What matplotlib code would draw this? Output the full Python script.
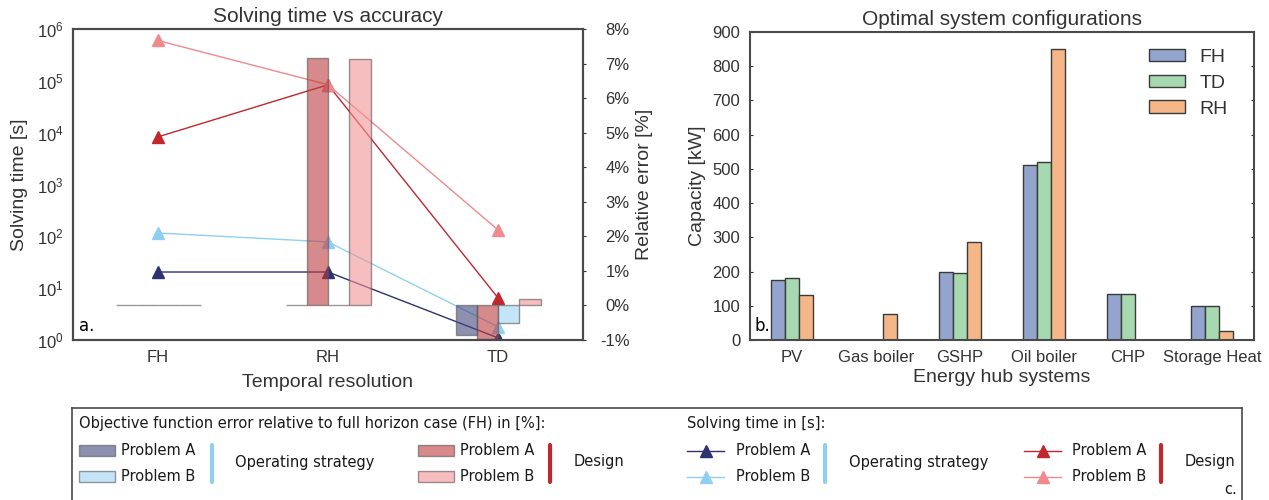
import numpy as np
import matplotlib
matplotlib.use('Agg')
import matplotlib.pyplot as plt
from matplotlib.patches import Rectangle
from matplotlib.lines import Line2D
from matplotlib.ticker import FuncFormatter

# ---- data -------------------------------------------------------------
resolutions = ['FH', 'RH', 'TD']
# solving time [s]
time_op_a = [20.5, 20.5, 1.1]
time_op_b = [116, 78, 1.8]
time_des_a = [8300, 84000, 6.5]
time_des_b = [600000, 84000, 133]
# objective function error relative to FH [%]
err_op_a = [0, 0, -0.86]
err_op_b = [0, 0, -0.51]
err_des_a = [0, 7.15, -0.97]
err_des_b = [0, 7.12, 0.19]

systems = ['PV', 'Gas boiler', 'GSHP', 'Oil boiler', 'CHP', 'Storage Heat']
cap_fh = [174, 0, 198, 512, 135, 99]
cap_td = [182, 0, 195, 519, 133, 99]
cap_rh = [132, 76, 285, 850, 0, 27]

# ---- styles -----------------------------------------------------------
NAVY = '#2e3370'
LBLUE = '#8fd0f2'
RED = '#c0282e'
PINK = '#f08a8c'
BAR_NAVY = '#43467b'
BAR_LBLUE = '#9bd4f3'
BAR_RED = '#bb3c3e'
BAR_PINK = '#f29496'
CAP_COLORS = {'FH': '#93a5cd', 'TD': '#a7d9b0', 'RH': '#f5b787'}
TXT = '#333333'
SPINE = '#4a4a4a'

plt.rcParams['font.family'] = ['Liberation Sans', 'DejaVu Sans']
plt.rcParams['text.color'] = TXT
plt.rcParams['axes.labelcolor'] = TXT
plt.rcParams['xtick.color'] = TXT
plt.rcParams['ytick.color'] = TXT

fig = plt.figure(figsize=(12.69, 5.0), dpi=100)

# ---- a. solving time vs accuracy -------------------------------------
ax = fig.add_axes([73 / 1269, 0.32, 510 / 1269, 0.622])
x = np.arange(len(resolutions))
for vals, c in [(time_op_a, NAVY), (time_op_b, LBLUE),
                (time_des_a, RED), (time_des_b, PINK)]:
    ax.plot(x, vals, color=c, lw=1, marker='^', ms=9, mec=c)
ax.set_yscale('log')
ax.set_ylim(1, 1e6)
ax.set_xlim(-0.5, 2.5)
ax.set_xticks(x)
ax.set_xticklabels(resolutions)
ax.set_ylabel('Solving time [s]', fontsize=14)
ax.set_xlabel('Temporal resolution', fontsize=14, labelpad=7)
ax.yaxis.set_label_coords(-0.088, 0.5)
ax.set_title('Solving time vs accuracy', fontsize=15, pad=5)
ax.tick_params(which='both', length=0, labelsize=12, pad=7)
ax.minorticks_off()

ax2 = ax.twinx()
w = 0.125
bar_kw = dict(width=w, align='edge', alpha=0.6, edgecolor='#555555', linewidth=1)
ax2.bar(x - 2 * w, err_op_a, color=BAR_NAVY, **bar_kw)
ax2.bar(x - w, err_des_a, color=BAR_RED, **bar_kw)
ax2.bar(x, err_op_b, color=BAR_LBLUE, **bar_kw)
ax2.bar(x + w, err_des_b, color=BAR_PINK, **bar_kw)
ax2.set_ylim(-1, 8)
ax2.set_yticks(range(-1, 9))
ax2.yaxis.set_major_formatter(FuncFormatter(lambda v, p: '%d%%' % v))
ax2.tick_params(axis='y', length=2.5, direction='out', labelsize=12, pad=31)
for t in ax2.get_yticklabels():
    t.set_ha('right')
ax2.set_ylabel('Relative error [%]', fontsize=14)
ax2.yaxis.set_label_coords(1.104, 0.5)
for a in (ax, ax2):
    for s in a.spines.values():
        s.set_color(SPINE)
        s.set_linewidth(1.5)
ax.text(0.012, 0.03, 'a.', transform=ax.transAxes, fontsize=12,
        family='DejaVu Sans', color='black')

# ---- b. optimal system configurations ---------------------------------
bx = fig.add_axes([750 / 1269, 0.32, 504 / 1269, 0.616])
xs = np.arange(len(systems))
bw = 1 / 6
cap_kw = dict(width=bw, edgecolor='#3a3a3a', linewidth=1)
bx.bar(xs - bw, cap_fh, color=CAP_COLORS['FH'], label='FH', **cap_kw)
bx.bar(xs, cap_td, color=CAP_COLORS['TD'], label='TD', **cap_kw)
bx.bar(xs + bw, cap_rh, color=CAP_COLORS['RH'], label='RH', **cap_kw)
bx.set_xlim(-0.5, len(systems) - 0.5)
bx.set_ylim(0, 900)
bx.set_yticks(range(0, 901, 100))
bx.set_xticks(xs)
bx.set_xticklabels(systems)
bx.tick_params(length=0, labelsize=12, pad=7)
bx.tick_params(axis='y', right=True, length=2.5, direction='in')
bx.set_ylabel('Capacity [kW]', fontsize=14)
bx.yaxis.set_label_coords(-0.088, 0.5)
bx.set_xlabel('Energy hub systems', fontsize=14, labelpad=3)
bx.set_title('Optimal system configurations', fontsize=15, pad=5)
for s in bx.spines.values():
    s.set_color(SPINE)
    s.set_linewidth(1.5)
bx.legend(loc='upper right', frameon=False, fontsize=14, handlelength=1.85,
          handleheight=0.62, labelspacing=0.45, handletextpad=0.75,
          borderaxespad=0.3, bbox_to_anchor=(0.975, 0.99))
bx.text(0.008, 0.03, 'b.', transform=bx.transAxes, fontsize=12,
        family='DejaVu Sans', color='black')

# ---- c. legend box ----------------------------------------------------
lx = fig.add_axes([72 / 1269, -0.03, 1170 / 1269, 0.214])
lx.set_xlim(72, 1242)
lx.set_ylim(515, 408)
lx.set_xticks([])
lx.set_yticks([])
for s in lx.spines.values():
    s.set_color(SPINE)
    s.set_linewidth(1.2)
LFONT = dict(family='DejaVu Sans', fontsize=10.5, color='#1a1a1a', va='center')

lx.text(79, 424, 'Objective function error relative to full horizon case (FH) in [%]:', **LFONT)
lx.text(687, 424, 'Solving time in [s]:', **LFONT)

ROW_A, ROW_B = 451, 477


def bar_handle(x0, y, color):
    lx.add_patch(Rectangle((x0, y - 5.5), 36, 11, facecolor=color, alpha=0.6,
                           edgecolor='#555555', linewidth=1))


def line_handle(x0, y, color):
    lx.add_line(Line2D([x0, x0 + 37], [y, y], color=color, lw=1))
    lx.add_line(Line2D([x0 + 18.5], [y], color=color, marker='^', ms=9, mec=color))


def bracket(xpos, color):
    lx.add_line(Line2D([xpos, xpos], [445, 482], color=color, lw=3,
                       solid_capstyle='round'))


# bars legend
bar_handle(79, ROW_A, BAR_NAVY)
bar_handle(79, ROW_B, BAR_LBLUE)
lx.text(121, ROW_A, 'Problem A', **LFONT)
lx.text(121, ROW_B, 'Problem B', **LFONT)
bracket(212, LBLUE)
lx.text(235, 463, 'Operating strategy', **LFONT)
bar_handle(418, ROW_A, BAR_RED)
bar_handle(418, ROW_B, BAR_PINK)
lx.text(460, ROW_A, 'Problem A', **LFONT)
lx.text(460, ROW_B, 'Problem B', **LFONT)
bracket(550, RED)
lx.text(574, 462, 'Design', **LFONT)

# lines legend
line_handle(687, ROW_A, NAVY)
line_handle(687, ROW_B, LBLUE)
lx.text(736, ROW_A, 'Problem A', **LFONT)
lx.text(736, ROW_B, 'Problem B', **LFONT)
bracket(825, LBLUE)
lx.text(849, 463, 'Operating strategy', **LFONT)
line_handle(1024, ROW_A, RED)
line_handle(1024, ROW_B, PINK)
lx.text(1072, ROW_A, 'Problem A', **LFONT)
lx.text(1072, ROW_B, 'Problem B', **LFONT)
bracket(1161, RED)
lx.text(1185, 462, 'Design', **LFONT)
lx.text(1224, 490, 'c.', **LFONT)

fig.savefig('out.png', dpi=100)
